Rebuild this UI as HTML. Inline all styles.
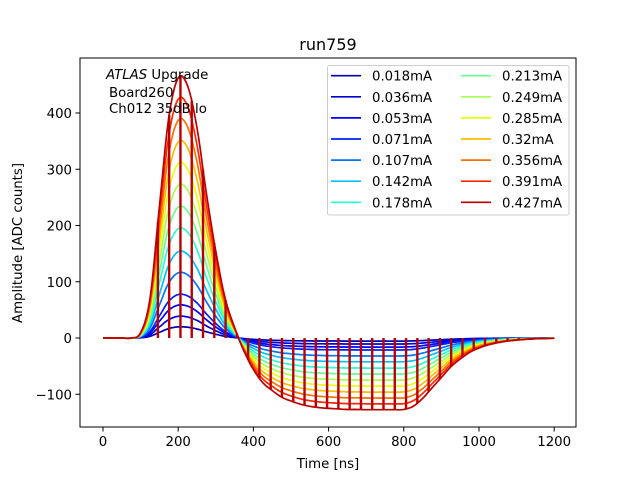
<!DOCTYPE html>
<html><head><meta charset="utf-8">
<style>
body{margin:0;background:#fff;position:relative;width:640px;height:480px;}
#chart{position:absolute;left:0;top:0}
svg text{font-family:"DejaVu Sans","Liberation Sans",sans-serif;}
</style></head>
<body>
<svg id="chart" width="640" height="480" xmlns="http://www.w3.org/2000/svg">
<rect width="640" height="480" fill="#fff"/>
<g id="plot"></g>
<g id="axes"></g>
</svg>
<script>
const currents = [0.018,0.036,0.053,0.071,0.107,0.142,0.178,0.213,0.249,0.285,0.32,0.356,0.391,0.427];
const labels = ["0.018mA","0.036mA","0.053mA","0.071mA","0.107mA","0.142mA","0.178mA","0.213mA","0.249mA","0.285mA","0.32mA","0.356mA","0.391mA","0.427mA"];
const peaks = [20,39,59,78,117,155,196,235,274,313,352,391,429,467];
const shapeTimes = [0,25,50,75,100,125,150,175,200,225,250,275,300,325,350,375,400,425,450,475,500,525,550,575,600,625,650,675,700,725,750,775,800,825,850,875,900,925,950,975,1000,1025,1050,1075,1100,1125,1150,1175,1200];
const shape = [0,0,0,0,0.02,0.15,0.5,0.84,0.99,0.96,0.8,0.55,0.33,0.15,0.04,-0.05,-0.12,-0.17,-0.2,-0.225,-0.24,-0.252,-0.26,-0.265,-0.268,-0.27,-0.272,-0.272,-0.273,-0.273,-0.273,-0.273,-0.272,-0.26,-0.23,-0.19,-0.15,-0.11,-0.08,-0.055,-0.038,-0.026,-0.018,-0.012,-0.008,-0.005,-0.003,-0.002,-0.001];
const xTicks = [0,200,400,600,800,1000,1200];
const yTicks = [-100,0,100,200,300,400];
const spikeStart = 146, spikeStep = 30;

const NS="http://www.w3.org/2000/svg";
const X0=80,X1=576,Y0=58,Y1=427;
const xs = t => 103 + t*0.376;
const ys = v => 338 - v*0.5625;
function mk(tag,attrs,parent){const e=document.createElementNS(NS,tag);for(const k in attrs)e.setAttribute(k,attrs[k]);parent.appendChild(e);return e;}
function jet(x){
  function seg(p,x){for(let i=0;i<p.length-1;i++){if(x<=p[i+1][0]){const f=(x-p[i][0])/(p[i+1][0]-p[i][0]);return p[i][1]+f*(p[i+1][1]-p[i][1]);}}return p[p.length-1][1];}
  const r=seg([[0,0],[0.35,0],[0.66,1],[0.89,1],[1,0.5]],x);
  const g=seg([[0,0],[0.125,0],[0.375,1],[0.64,1],[0.91,0],[1,0]],x);
  const b=seg([[0,0.5],[0.11,1],[0.34,1],[0.65,0],[1,0]],x);
  return `rgb(${Math.round(r*255)},${Math.round(g*255)},${Math.round(b*255)})`;
}
function shapeAt(t){
  for(let i=0;i<shapeTimes.length-1;i++){
    if(t<=shapeTimes[i+1]){
      const t0=shapeTimes[i],t1=shapeTimes[i+1];
      const p0=shape[Math.max(i-1,0)],p1=shape[i],p2=shape[i+1],p3=shape[Math.min(i+2,shape.length-1)];
      const u=(t-t0)/(t1-t0),u2=u*u,u3=u2*u;
      return 0.5*((2*p1)+(-p0+p2)*u+(2*p0-5*p1+4*p2-p3)*u2+(-p0+3*p1-3*p2+p3)*u3);
    }
  }
  return shape[shape.length-1];
}
const plot=document.getElementById('plot');
const clip=mk('clipPath',{id:'pc'},plot);mk('rect',{x:X0,y:Y0,width:X1-X0,height:Y1-Y0},clip);
const g=mk('g',{'clip-path':'url(#pc)'},plot);
peaks.forEach((pk,i)=>{
  let d='';
  for(let t=0;t<=1200;t+=5){d+=(t?'L':'M')+xs(t).toFixed(1)+','+ys(pk*shapeAt(t)).toFixed(1);}
  const p=mk('path',{d:d,fill:'none',stroke:jet(currents[i]/0.45),'stroke-width':1.7},g);
  
  
  if(i===peaks.length-1){
    for(let t=spikeStart;t<=1200;t+=spikeStep){
      const l=mk('line',{x1:xs(t),x2:xs(t),y1:ys(0),y2:ys(pk*shapeAt(t)),stroke:jet(currents[i]/0.45),'stroke-width':2.4},g);
      
      
    }
  }
});
const ax=document.getElementById('axes');
const fr=mk('rect',{x:X0,y:Y0,width:X1-X0,height:Y1-Y0,fill:'none',stroke:'#000','stroke-width':1},ax);

xTicks.forEach(v=>{
  mk('line',{x1:xs(v),x2:xs(v),y1:Y1,y2:Y1+4.5,stroke:'#000'},ax);
  const t=mk('text',{x:xs(v),y:Y1+19,'text-anchor':'middle','font-size':13.3},ax);t.textContent=v;
  
});
yTicks.forEach(v=>{
  mk('line',{x1:X0-4.5,x2:X0,y1:ys(v),y2:ys(v),stroke:'#000'},ax);
  const t=mk('text',{x:X0-8,y:ys(v)+5,'text-anchor':'end','font-size':13.3},ax);t.textContent=v<0?'\u2212'+(-v):v;
  
});
const lg=mk('g',{},ax);

mk('rect',{x:327.5,y:65.5,width:241.5,height:149.5,rx:2,fill:'#fff','fill-opacity':0.8,stroke:'#ccc'},lg);
labels.forEach((lab,i)=>{
  const col=Math.floor(i/7),row=i%7;
  const lx=col?461:331, y=75.7+row*21.1;
  mk('line',{x1:lx,x2:lx+30,y1:y,y2:y,stroke:jet(currents[i]/0.45),'stroke-width':1.7},lg);
  const t=mk('text',{x:lx+41,y:y+5,'font-size':13.3},lg);t.textContent=lab;
  
});
</script>
<svg style="position:absolute;left:0;top:0" width="640" height="480" xmlns="http://www.w3.org/2000/svg">
<text x="328" y="50" text-anchor="middle" font-size="16" font-family="DejaVu Sans, Liberation Sans, sans-serif">run759</text>
<text x="328" y="468" text-anchor="middle" font-size="13.3" font-family="DejaVu Sans, Liberation Sans, sans-serif">Time [ns]</text>
<text x="22" y="243" text-anchor="middle" font-size="13.3" font-family="DejaVu Sans, Liberation Sans, sans-serif" transform="rotate(-90 22 243)">Amplitude [ADC counts]</text>
<text font-size="13.3" font-family="DejaVu Sans, Liberation Sans, sans-serif"><tspan x="106" y="79"><tspan font-style="italic">ATLAS</tspan> Upgrade</tspan><tspan x="109" y="97">Board260</tspan><tspan x="109" y="113">Ch012 35dB lo</tspan></text>
</svg>
</body></html>
